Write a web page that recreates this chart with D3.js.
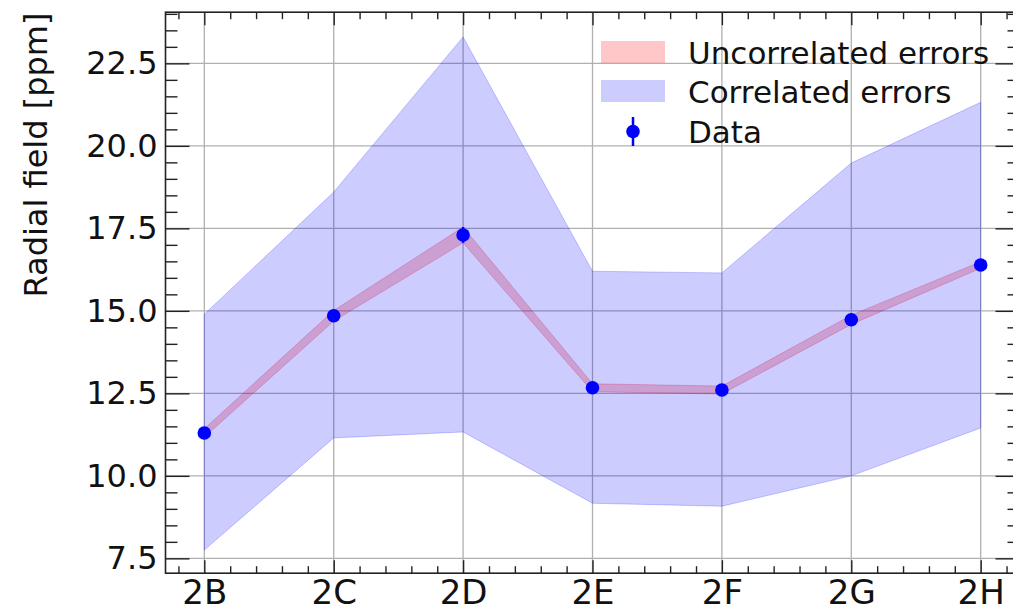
<!DOCTYPE html>
<html>
<head>
<meta charset="utf-8">
<script src="https://cdn.jsdelivr.net/npm/d3@7"></script>
<style>
  body { margin: 0; background: #fff; }
  text { font-family: "DejaVu Sans", sans-serif; fill: #111; }
</style>
</head>
<body>
<div id="chart"></div>
<script>
// values
const categories = ["2B", "2C", "2D", "2E", "2F", "2G", "2H"];
const values     = [11.3, 14.85, 17.3, 12.67, 12.6, 14.73, 16.39];
const uncorrErr  = [0.13, 0.16, 0.24, 0.12, 0.12, 0.14, 0.1];
const corrLow    = [7.75, 11.15, 11.33, 9.17, 9.08, 10.0, 11.45];
const corrHigh   = [14.9, 18.6, 23.3, 16.2, 16.15, 19.48, 21.32];
const yTicks     = [7.5, 10.0, 12.5, 15.0, 17.5, 20.0, 22.5];
const legendLabels = ["Uncorrelated errors", "Correlated errors", "Data"];

const width = 1013, height = 612;
const plotLeft = 165.5, plotRight = 1019.5, plotTop = 12.2, plotBottom = 573.2;

const svg = d3.select("#chart").append("svg")
    .attr("width", width)
    .attr("height", height)
    .attr("viewBox", `0 0 ${width} ${height}`);

const x = d3.scaleLinear().domain([-0.3, 6.3]).range([plotLeft, plotRight]);
const y = d3.scaleLinear().domain([7.05, 24.05]).range([plotBottom, plotTop]);

const idx = categories.map((d, i) => i);
const xMinor = d3.range(-0.2, 6.25, 0.2).filter(v => Math.abs(v - Math.round(v)) > 0.01);
const yMinor = d3.range(7.5, 24.01, 0.5).filter(v => Math.abs(v / 2.5 - Math.round(v / 2.5)) > 0.01);

// grid
const grid = svg.append("g").attr("stroke", "#b0b0b0").attr("stroke-width", 1.3);
grid.selectAll(".gx").data(idx).join("line")
    .attr("x1", d => x(d)).attr("x2", d => x(d))
    .attr("y1", plotTop).attr("y2", plotBottom);
grid.selectAll(".gy").data(yTicks).join("line")
    .attr("x1", plotLeft).attr("x2", plotRight)
    .attr("y1", d => y(d)).attr("y2", d => y(d));

// bands
const corrArea = d3.area()
    .x((d, i) => x(i))
    .y0((d, i) => y(corrLow[i]))
    .y1((d, i) => y(corrHigh[i]));
const uncorrArea = d3.area()
    .x((d, i) => x(i))
    .y0((d, i) => y(values[i] - uncorrErr[i]))
    .y1((d, i) => y(values[i] + uncorrErr[i]));

svg.append("path").datum(values)
    .attr("d", uncorrArea)
    .attr("fill", "red").attr("fill-opacity", 0.22)
    .attr("stroke", "red").attr("stroke-opacity", 0.22).attr("stroke-width", 1);

svg.append("path").datum(values)
    .attr("d", corrArea)
    .attr("fill", "blue").attr("fill-opacity", 0.2)
    .attr("stroke", "blue").attr("stroke-opacity", 0.2).attr("stroke-width", 1);

// data points with error bars
svg.append("g").selectAll("line").data(values).join("line")
    .attr("x1", (d, i) => x(i)).attr("x2", (d, i) => x(i))
    .attr("y1", (d, i) => y(d - uncorrErr[i])).attr("y2", (d, i) => y(d + uncorrErr[i]))
    .attr("stroke", "blue").attr("stroke-width", 2.5);
svg.append("g").selectAll("circle").data(values).join("circle")
    .attr("cx", (d, i) => x(i)).attr("cy", d => y(d))
    .attr("r", 6.8).attr("fill", "blue");

// axes: ticks point inward on all four sides
const fmt = d3.format(".1f");
const axisStyle = g => {
    g.select(".domain").remove();
    g.selectAll(".tick line").attr("stroke", "#222").attr("stroke-width", 1.4);
    g.selectAll("text").attr("fill", "#111");
};

svg.append("g").attr("transform", `translate(${plotLeft},0)`)
    .call(d3.axisLeft(y).tickValues(yTicks).tickFormat(fmt).tickSizeInner(-24).tickPadding(8))
    .call(axisStyle)
    .call(g => g.selectAll("text").attr("font-family", "DejaVu Sans").attr("font-size", 32));
svg.append("g").attr("transform", `translate(${plotLeft},0)`)
    .call(d3.axisLeft(y).tickValues(yMinor).tickFormat("").tickSizeInner(-12))
    .call(axisStyle);
svg.append("g").attr("transform", `translate(${plotRight},0)`)
    .call(d3.axisRight(y).tickValues(yTicks).tickFormat("").tickSizeInner(-24))
    .call(axisStyle);
svg.append("g").attr("transform", `translate(${plotRight},0)`)
    .call(d3.axisRight(y).tickValues(yMinor).tickFormat("").tickSizeInner(-12))
    .call(axisStyle);

svg.append("g").attr("transform", `translate(0,${plotBottom})`)
    .call(d3.axisBottom(x).tickValues(idx).tickFormat(i => categories[i]).tickSizeInner(-13).tickPadding(6))
    .call(axisStyle)
    .call(g => g.selectAll("text").attr("font-family", "DejaVu Sans Condensed")
        .attr("font-size", 34).attr("dy", "0.72em"));
svg.append("g").attr("transform", `translate(0,${plotBottom})`)
    .call(d3.axisBottom(x).tickValues(xMinor).tickFormat("").tickSizeInner(-7))
    .call(axisStyle);
svg.append("g").attr("transform", `translate(0,${plotTop})`)
    .call(d3.axisTop(x).tickValues(idx).tickFormat("").tickSizeInner(-13))
    .call(axisStyle);
svg.append("g").attr("transform", `translate(0,${plotTop})`)
    .call(d3.axisTop(x).tickValues(xMinor).tickFormat("").tickSizeInner(-7))
    .call(axisStyle);

// frame
svg.append("rect")
    .attr("x", plotLeft).attr("y", plotTop)
    .attr("width", plotRight - plotLeft).attr("height", plotBottom - plotTop)
    .attr("fill", "none").attr("stroke", "#222").attr("stroke-width", 1.6);

// y label
svg.append("text")
    .attr("transform", `translate(47,155) rotate(-90)`)
    .attr("text-anchor", "middle")
    .attr("font-size", 32)
    .text("Radial field [ppm]");

// legend
const leg = svg.append("g");
leg.append("rect").attr("x", 601).attr("y", 41).attr("width", 64).attr("height", 22)
    .attr("fill", "red").attr("fill-opacity", 0.22);
leg.append("rect").attr("x", 601).attr("y", 80).attr("width", 64).attr("height", 22)
    .attr("fill", "blue").attr("fill-opacity", 0.2);
leg.append("line").attr("x1", 633).attr("x2", 633).attr("y1", 117).attr("y2", 146)
    .attr("stroke", "blue").attr("stroke-width", 2.5);
leg.append("circle").attr("cx", 633).attr("cy", 131.5).attr("r", 6.8).attr("fill", "blue");
leg.selectAll("text").data(legendLabels).join("text")
    .attr("x", 688)
    .attr("y", (d, i) => 63.5 + i * 39.5)
    .attr("font-size", 31)
    .text(d => d);
</script>
</body>
</html>
